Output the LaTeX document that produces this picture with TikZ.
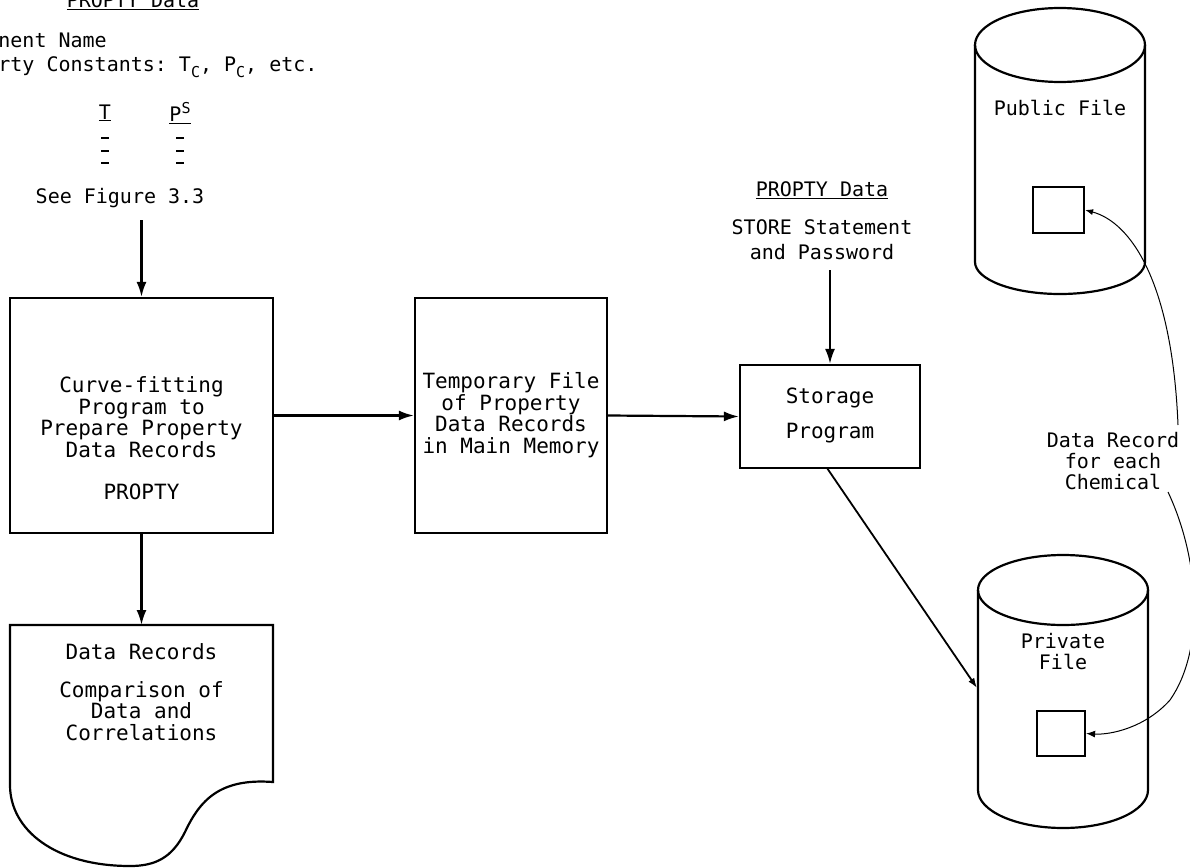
\documentclass[tikz,border=0pt]{standalone}
\usepackage{fontspec}
\setmonofont{DejaVu Sans Mono}
\usetikzlibrary{arrows.meta}
\newcommand{\subC}{\raisebox{-6pt}{\fontsize{15}{15}\selectfont C}}
\begin{document}
\begin{tikzpicture}[x=1pt,y=-1pt,
  every node/.style={font=\fontsize{20}{21}\selectfont\ttfamily, inner sep=0pt, align=center},
  boxfont/.style={font=\fontsize{21}{21.5}\selectfont\ttfamily},
  box/.style={draw, line width=2.2pt},
  arr/.style={-{Latex[length=15pt,width=10pt]}, line width=2.2pt},
  thinarr/.style={line width=1pt}]
\useasboundingbox (0,0) rectangle (1190,867);

% top-left input data
\node[anchor=base] (hdr1) at (133,8) {\underline{PROPTY Data}};
\node[anchor=west] (comp) at (-62,42) {Component Name};
\node[anchor=west] (pconst) at (-62,67) {Property Constants: T\subC, P\subC, etc.};
\node (tcol) at (105,113) {\underline{T}};
\node (pcol) at (180,113) {\underline{P\raisebox{8pt}{\fontsize{15}{15}\selectfont S}}};
\foreach \yy in {138,151,163}{
  \draw[line width=1.8pt] (101,\yy) -- (109,\yy);
  \draw[line width=1.8pt] (176,\yy) -- (184,\yy);
}
\node (seefig) at (120,198) {See Figure 3.3};
\coordinate (seefigout) at (141.5,220);

% boxes
\node[box, minimum width=263pt, minimum height=235pt] (prep) at (141.5,415.5) {};
\node[boxfont] (preptxt) at (141.5,417) {Curve-fitting\\Program to\\Prepare Property\\Data Records};
\node[boxfont] (proptylbl) at (141.5,492) {PROPTY};

\node[box, minimum width=192pt, minimum height=235pt] (temp) at (511,415.5) {};
\node[boxfont] (temptxt) at (511,415) {Temporary File\\of Property\\Data Records\\in Main Memory};

\node[box, minimum width=180pt, minimum height=103pt] (store) at (830,416.5) {};
\node[boxfont] (storetxt1) at (830,398) {Storage};
\node[boxfont] (storetxt2) at (830,433) {Program};

\node (hdr2) at (822,190) {\underline{PROPTY Data}};
\node (storein) at (822,240) {STORE Statement\\[4pt]and Password};
\coordinate (storeinout) at (830,270);

% document shape
\coordinate (doctop) at (141.5,625);
\draw[box] (10,625) -- (273,625) -- (273,782)
  .. controls (220,778) and (200,800) .. (185,832)
  .. controls (172,858) and (155,866) .. (130,866)
  .. controls (55,866) and (10,830) .. (10,785) -- cycle;
\node[boxfont] (doctxt1) at (141.5,652) {Data Records};
\node[boxfont] (doctxt2) at (141.5,711) {Comparison of\\Data and\\Correlations};

% public file cylinder
\draw[box] (975,45) -- (975,262) arc (180:360:85pt and 32pt) -- (1145,45);
\draw[box] (1060,45) ellipse [x radius=85pt, y radius=37pt];
\node (pubtxt) at (1060,108) {Public File};
\node[box, minimum width=51pt, minimum height=46pt] (pubsq) at (1058.5,210) {};

% private file cylinder
\draw[box] (978,590) -- (978,790) arc (180:360:85pt and 38pt) -- (1148,590);
\draw[box] (1063,590) ellipse [x radius=85pt, y radius=35pt];
\node (pvtxt) at (1063,652) {Private\\File};
\node[box, minimum width=48pt, minimum height=45pt] (pvsq) at (1061,733.5) {};

% data record label
\node (reclbl) at (1113,461) {Data Record\\for each\\Chemical};

% connectors
\draw[arr] (seefigout) -- (prep.north);
\draw[arr] (prep.east) -- (temp.west);
\draw[arr] (temp.east) -- (store.west);
\draw[arr] (storeinout) -- (store.north);
\draw[arr] (prep.south) -- (doctop);
\coordinate (pvside) at (977,688);
\draw[line width=1.8pt, -{Latex[length=10pt,width=7pt]}] (827,468) -- (pvside);
\draw[thinarr, {Latex[length=8pt,width=6pt]}-] (pubsq.east) .. controls (1130,222) and (1172,280) .. (1178,425);
\draw[thinarr, -{Latex[length=9pt,width=7pt]}] (1168,492) .. controls (1200,560) and (1205,650) .. (1170,700) .. controls (1145,728) and (1110,735) .. (pvsq.east);
\end{tikzpicture}
\end{document}
